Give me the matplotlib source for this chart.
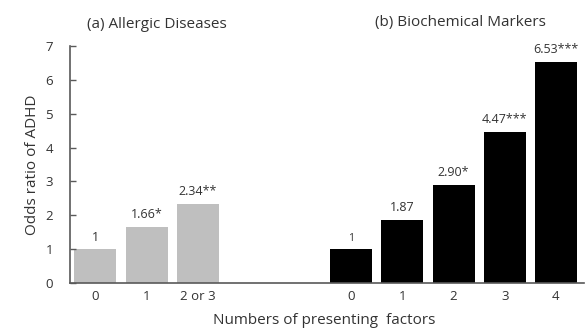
import matplotlib.pyplot as plt

plt.rcParams['font.family'] = ['Open Sans', 'DejaVu Sans']

# data
allergy_labels = ['0', '1', '2 or 3']
allergy_or = [1.0, 1.66, 2.34]
allergy_text = ['1', '1.66*', '2.34**']

bio_labels = ['0', '1', '2', '3', '4']
bio_or = [1.0, 1.87, 2.90, 4.47, 6.53]
bio_text = ['1', '1.87', '2.90*', '4.47***', '6.53***']

text_col = '#333333'
axis_col = '#595959'

fig = plt.figure(figsize=(5.87, 3.28), dpi=100)
ax = fig.add_axes([0.119, 0.137, 0.876, 0.723])

x_a = [0, 1, 2]
x_b = [5, 6, 7, 8, 9]

ax.bar(x_a, allergy_or, width=0.82, color='#BFBFBF')
ax.bar(x_b, bio_or, width=0.82, color='black')

for x, v, t in zip(x_a, allergy_or, allergy_text):
    ax.annotate(t, (x, v), xytext=(0, 4), textcoords='offset points',
                ha='center', va='bottom', fontsize=9, color=text_col)
for i, (x, v, t) in enumerate(zip(x_b, bio_or, bio_text)):
    fs = 7.5 if i == 0 else 9
    ax.annotate(t, (x, v), xytext=(0, 4), textcoords='offset points',
                ha='center', va='bottom', fontsize=fs, color=text_col)

ax.set_xlim(-0.5, 9.55)
ax.set_ylim(0, 7)
ax.set_xticks(x_a + x_b)
ax.set_xticklabels(allergy_labels + bio_labels)
ax.set_yticks(range(8))
ax.tick_params(axis='x', length=0, pad=5, labelsize=9.5, colors=text_col)
ax.tick_params(axis='y', direction='in', length=4, width=1, pad=12,
               labelsize=9.5, colors=text_col)
ax.tick_params(axis='y', color=axis_col)

for s in ['top', 'right']:
    ax.spines[s].set_visible(False)
for s in ['left', 'bottom']:
    ax.spines[s].set_color(axis_col)
    ax.spines[s].set_linewidth(1.2)

ax.set_ylabel('Odds ratio of ADHD', fontsize=11, color=text_col, labelpad=4)
fig.text(0.553, 0.012, 'Numbers of presenting  factors', ha='center',
         fontsize=11, color=text_col)
fig.text(0.268, 0.915, '(a) Allergic Diseases', ha='center', fontsize=11,
         color=text_col)
fig.text(0.784, 0.92, '(b) Biochemical Markers', ha='center', fontsize=11,
         color=text_col)

fig.savefig('out.png', dpi=100)
